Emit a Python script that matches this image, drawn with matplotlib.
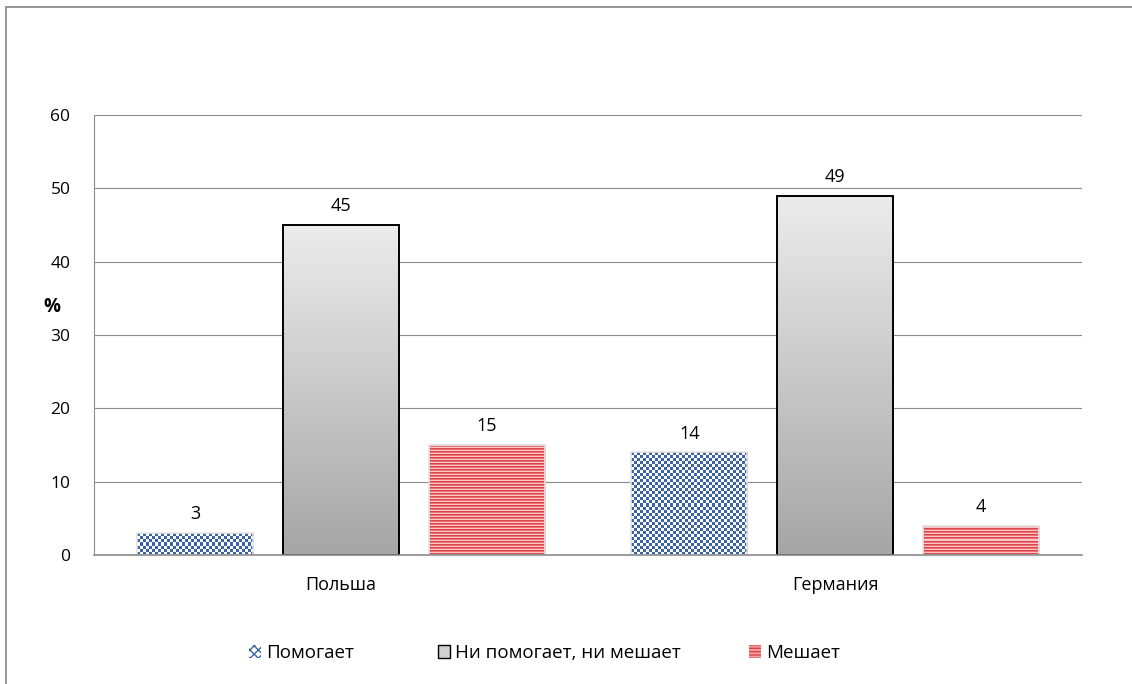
import numpy as np
import matplotlib
matplotlib.use('Agg')
import matplotlib.pyplot as plt
import matplotlib.patches as mpatches

plt.rcParams['font.family'] = ['Open Sans', 'DejaVu Sans']
plt.rcParams['hatch.linewidth'] = 1.0

# data
countries = ['Польша', 'Германия']
series_names = ['Помогает', 'Ни помогает, ни мешает', 'Мешает']
helps = [3, 14]
neutral = [45, 49]
hinders = [15, 4]
y_ticks = [0, 10, 20, 30, 40, 50, 60]

fig = plt.figure(figsize=(11.32, 6.84), dpi=100)
ax = fig.add_axes([94 / 1132, 1 - 555 / 684, 988 / 1132, 440 / 684])

# outer chart frame
frame = mpatches.Rectangle((5.5 / 1132, -0.1), 1.2, 1.1 - 6.5 / 684,
                           transform=fig.transFigure, fill=False,
                           edgecolor='#8c8c8c', linewidth=1.3)
fig.patches.append(frame)

x = np.arange(len(countries))
w = 0.235
off = 0.295

b_help = ax.bar(x - off, helps, w, color='none', edgecolor='#e4e4e4', linewidth=1.2, zorder=3)
b_neu = ax.bar(x, neutral, w, color='none', edgecolor='black', linewidth=1.4, zorder=4)
b_hin = ax.bar(x + off, hinders, w, color='none', edgecolor='#e4e4e4', linewidth=1.2, zorder=3)

ax.set_xlim(-0.5, 1.5)
ax.set_ylim(0, 60)
ax.set_yticks(y_ticks)
ax.set_xticks(x)
ax.set_xticklabels(countries, fontsize=13)
ax.tick_params(axis='y', length=0, pad=17, labelsize=12.5)
ax.tick_params(axis='x', length=0, pad=15)
ax.grid(axis='y', color='#8c8c8c', linewidth=0.8, zorder=0)
ax.set_axisbelow(True)
for s in ['top', 'right']:
    ax.spines[s].set_visible(False)
ax.spines['left'].set_color('#8c8c8c')
ax.spines['bottom'].set_color('#8c8c8c')
ax.spines['bottom'].set_linewidth(1.2)
ax.spines['bottom'].set_zorder(5)

ax.text(-0.0425, 0.564, '%', transform=ax.transAxes, fontsize=13.5,
        fontweight='bold', ha='center', va='center')

fig.canvas.draw()


def textures(bars, kind):
    for bar in bars:
        bb = bar.get_window_extent()
        x0, y0 = bar.get_x(), bar.get_y()
        x1, y1 = x0 + bar.get_width(), y0 + bar.get_height()
        nx = max(int(round(bb.width / 3)), 1)
        ny = max(int(round(bb.height / 3)), 1)
        if kind == 'check':
            ii, jj = np.indices((ny, nx))
            m = (ii + jj) % 2
            c1 = np.array([0x3b, 0x63, 0xa6]) / 255
            c2 = np.array([1.0, 1.0, 1.0])
            arr = np.where(m[..., None] == 0, c1, c2)
        elif kind == 'stripe':
            ny = max(int(round(bb.height)), 1)
            rows = np.arange(ny) % 3
            cols = np.array([[0.86, 0.27, 0.29], [0.92, 0.45, 0.46], [0.97, 0.78, 0.78]])
            arr = np.repeat(cols[rows][:, None, :], 2, axis=1)
        else:
            t = np.linspace(0, 1, 200)[:, None]
            top = np.array([0.925, 0.925, 0.925])
            bot = np.array([0.65, 0.65, 0.65])
            arr = (top * (1 - t) + bot * t)[:, None, :].repeat(2, axis=1)
        im = ax.imshow(arr, extent=[x0, x1, y0, y1], aspect='auto',
                       interpolation='nearest', origin='upper', zorder=bar.get_zorder() - 0.5)
        im.set_clip_path(bar)


textures(b_help, 'check')
textures(b_neu, 'grad')
textures(b_hin, 'stripe')
ax.set_xlim(-0.5, 1.5)
ax.set_ylim(0, 60)

for bars in (b_help, b_neu, b_hin):
    for bar in bars:
        ax.annotate(f'{bar.get_height():g}',
                    (bar.get_x() + bar.get_width() / 2, bar.get_height()),
                    xytext=(0, 7), textcoords='offset points',
                    ha='center', va='bottom', fontsize=13)

handles = [
    mpatches.Patch(facecolor='white', edgecolor='#3b63a6', hatch='xxxx', linewidth=0, label=series_names[0]),
    mpatches.Patch(facecolor='#d0d0d0', edgecolor='black', linewidth=1, label=series_names[1]),
    mpatches.Patch(facecolor='#f0a0a0', edgecolor='#dc4547', hatch='-----', linewidth=0, label=series_names[2]),
]
legend_x = [243 / 1132, 432 / 1132, 743 / 1132]
for h, lx in zip(handles, legend_x):
    lg = fig.legend(handles=[h], loc='center left', bbox_to_anchor=(lx, 1 - 653 / 684),
                    frameon=False, fontsize=13.5, handlelength=0.65, handleheight=0.65,
                    handletextpad=0.3, borderaxespad=0, borderpad=0.3)

fig.savefig('out.png', dpi=100)
